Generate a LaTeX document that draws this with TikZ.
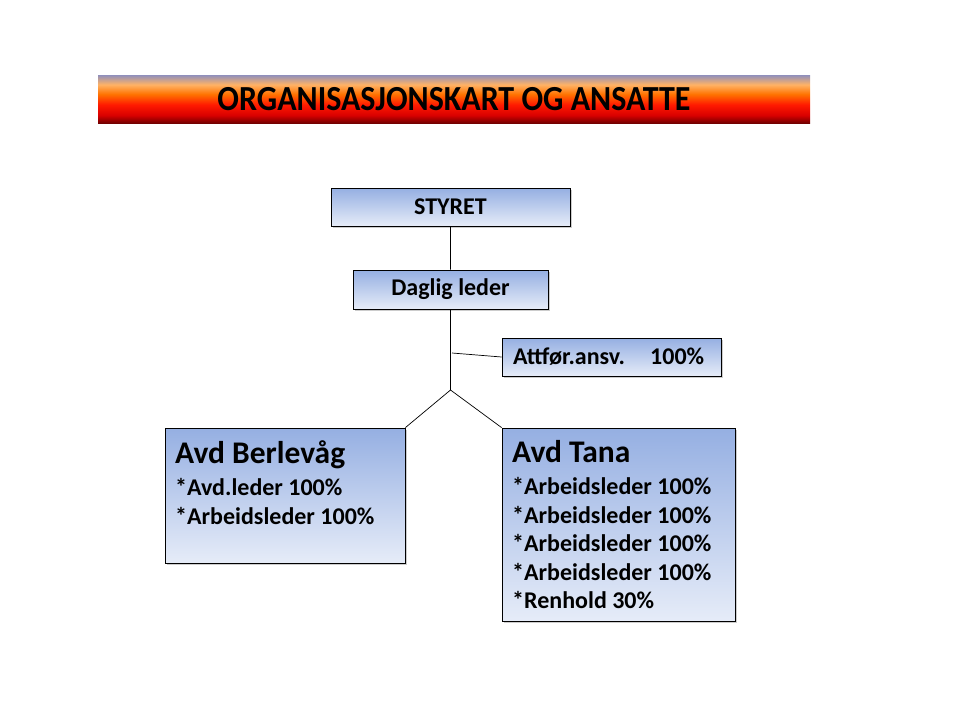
\documentclass[tikz,border=0pt]{standalone}
\usepackage{fontspec}
\setmainfont{Carlito}
\usetikzlibrary{positioning,shadows}

\definecolor{boxtop}{HTML}{95AFE2}
\definecolor{boxbot}{HTML}{E6ECF8}
\pgfdeclareverticalshading{banner}{100bp}{%
  color(0bp)=(red!45!black); color(25bp)=(red!45!black);
  color(33bp)=(red!85!black); color(44bp)=(red!80!orange);
  color(55bp)=(orange!90!red); color(65bp)=(orange!60!white);
  color(75bp)=(blue!25!gray!70!white); color(100bp)=(blue!25!gray!70!white)}

\begin{document}
\begin{tikzpicture}[x=1pt,y=-1pt]
	\tikzset{orgbox/.style={draw=black,line width=0.8pt,top color=boxtop,bottom color=boxbot,
			drop shadow={shadow xshift=2pt,shadow yshift=-2pt,opacity=0.4},
			inner sep=0pt,font=\bfseries\fontsize{24}{28.5}\selectfont},
		orgtext/.style={align=left,inner sep=0pt,font=\bfseries\fontsize{24}{28.5}\selectfont},
		link/.style={draw,line width=0.7pt}
	}
    \useasboundingbox (0,0) rectangle (960,720);
    % tittel
    \node [shading=banner,minimum width=712pt,minimum height=48pt,inner sep=0pt] (banner) at (454,99) {};
    \node [text=black,inner sep=0pt,font=\bfseries\fontsize{32}{36}\selectfont] (title) at (banner)
        {\color{black}\scalebox{1}[1.1]{ORGANISASJONSKART OG ANSATTE}};
    % bokser
    \node [orgbox,minimum width=239pt,minimum height=38pt] (styret) at (450.5,207) {STYRET};
    \node [orgbox,minimum width=195pt,minimum height=39pt] (daglig) at (450.5,289.5) {Daglig leder};
    \node [orgbox,minimum width=219pt,minimum height=38pt,text width=197pt,align=left] (attfor) at (611.5,357)
        {Attfør.ansv.\hspace{0.55em} 100\%};
    \node [orgbox,minimum width=240pt,minimum height=135pt] (berlevag) at (285,495.5) {};
    \node [orgbox,minimum width=233pt,minimum height=193pt] (tana) at (618.5,524.5) {};
    \node [orgtext,anchor=north west] (berlevagtxt) at (175,440) {{\fontsize{31.5}{34}\selectfont Avd Berlevåg}\\[4pt]
        *Avd.leder 100\%\\ *Arbeidsleder 100\%};
    \node [orgtext,anchor=north west] (tanatxt) at (512,440) {{\fontsize{31.5}{34}\selectfont Avd Tana}\\[4pt]
        *Arbeidsleder 100\%\\ *Arbeidsleder 100\%\\ *Arbeidsleder 100\%\\ *Arbeidsleder 100\%\\ *Renhold 30\%};
    \coordinate (split) at (450.5,390);
    \coordinate (side) at (452,353);
    
    \draw [link] (styret) -- (daglig)
    	  (daglig) -- (split)
    	  (side) -- (attfor.west)
    	  (split) -- (berlevag.north east)
    	  (split) -- (tana.north west);
	\end{tikzpicture}
\end{document}
